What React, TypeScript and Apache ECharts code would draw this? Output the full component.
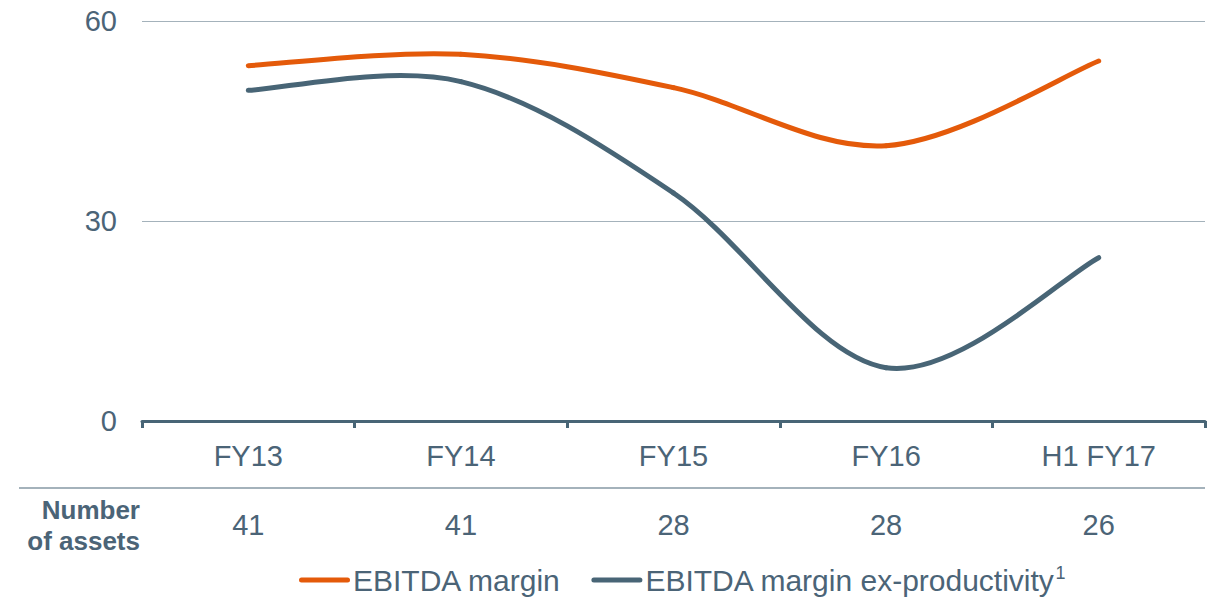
import React, { useEffect, useRef } from "react";
import * as echarts from "echarts";

const categories = ["FY13", "FY14", "FY15", "FY16", "H1 FY17"];
const ebitdaMargin = [53.3, 55, 50, 41.3, 54];
const ebitdaExProductivity = [49.6, 50.9, 34.2, 8, 24.5];
const numberOfAssets = ["41", "41", "28", "28", "26"];
const yTicks = { min: 0, max: 60, interval: 30 };

const TEXT = "#4b6477";
const ORANGE = "#e45a0a";
const SLATE = "#486576";
const GRID = "#a4b2bb";
const FONT = "'Liberation Sans', Arial, sans-serif";

function curveSeries(name: string, values: number[], color: string) {
  const n = values.length;
  const clampIdx = (k: number) => Math.max(0, Math.min(n - 1, k));
  return {
    type: "custom",
    name,
    xAxisIndex: 0,
    yAxisIndex: 0,
    data: values.map((v, i) => [i, v]),
    encode: { x: 0, y: 1 },
    itemStyle: { color },
    z: 3,
    renderItem: (params: any, api: any) => {
      const i = params.dataIndex;
      if (i >= n - 1) return null;
      const pt = (k: number) => {
        const c = clampIdx(k);
        return api.coord([c, values[c]]);
      };
      const p0 = pt(i - 1);
      const p1 = pt(i);
      const p2 = pt(i + 1);
      const p3 = pt(i + 2);
      return {
        type: "bezierCurve",
        shape: {
          x1: p1[0],
          y1: p1[1],
          cpx1: p1[0] + (p2[0] - p0[0]) / 6,
          cpy1: p1[1] + (p2[1] - p0[1]) / 6,
          cpx2: p2[0] - (p3[0] - p1[0]) / 6,
          cpy2: p2[1] - (p3[1] - p1[1]) / 6,
          x2: p2[0],
          y2: p2[1],
        },
        style: { stroke: color, lineWidth: 5, fill: null, lineCap: "round" },
      };
    },
  };
}

export default function App() {
  const ref = useRef<HTMLDivElement>(null);
  useEffect(() => {
    if (!ref.current) return;
    const chart = echarts.init(ref.current, undefined, { renderer: "svg" });
    const iconPath = "path://M2.5,0 L48.5,0 A2.5,2.5 0 0 1 48.5,5 L2.5,5 A2.5,2.5 0 0 1 2.5,0 Z";
    chart.setOption({
      animation: false,
      textStyle: { fontFamily: FONT },
      grid: { left: 142, right: 10, top: 21, bottom: 178, containLabel: false },
      legend: {
        left: 294,
        top: 559,
        itemWidth: 51,
        itemHeight: 5,
        itemGap: 30,
        icon: iconPath,
        data: [
          { name: "EBITDA margin", icon: iconPath },
          { name: "EBITDA margin ex-productivity", icon: iconPath },
        ],
        formatter: (name: string) =>
          name === "EBITDA margin ex-productivity"
            ? "{a|" + name + "}{sup|1}"
            : "{a|" + name + "}",
        textStyle: {
          color: TEXT,
          fontSize: 30,
          fontFamily: FONT,
          padding: [0, 0, 0, -2],
          rich: {
            a: { fontSize: 30, color: TEXT, fontFamily: FONT, lineHeight: 32 },
            sup: { fontSize: 18, color: TEXT, fontFamily: FONT, verticalAlign: "top", lineHeight: 20, padding: [0, 0, 14, 0] },
          },
        },
      },
      xAxis: [
        {
          type: "category",
          data: categories,
          boundaryGap: true,
          axisLine: { lineStyle: { color: SLATE, width: 3 } },
          axisTick: { show: true, length: 7, lineStyle: { color: SLATE, width: 3 } },
          axisLabel: { color: TEXT, fontSize: 29, fontFamily: FONT, margin: 20 },
        },
        {
          type: "category",
          data: numberOfAssets,
          position: "bottom",
          offset: 69,
          boundaryGap: true,
          axisLine: { show: false },
          axisTick: { show: false },
          axisLabel: { color: TEXT, fontSize: 29, fontFamily: FONT, margin: 20 },
          splitLine: { show: false },
        },
      ],
      yAxis: {
        type: "value",
        min: yTicks.min,
        max: yTicks.max,
        interval: yTicks.interval,
        axisLine: { show: false },
        axisTick: { show: false },
        axisLabel: { color: TEXT, fontSize: 29, fontFamily: FONT, margin: 25 },
        splitLine: { lineStyle: { color: GRID, width: 1 } },
      },
      series: [
        curveSeries("EBITDA margin", ebitdaMargin, ORANGE),
        curveSeries("EBITDA margin ex-productivity", ebitdaExProductivity, SLATE),
      ],
      graphic: [
        {
          type: "line",
          shape: { x1: 19, y1: 488, x2: 1205, y2: 488 },
          style: { stroke: GRID, lineWidth: 2 },
        },
        {
          type: "text",
          x: 140,
          y: 525,
          style: {
            text: "Number\nof assets",
            fill: TEXT,
            font: "bold 26px " + FONT,
            align: "right",
            verticalAlign: "middle",
            lineHeight: 31,
          },
        },
      ],
    });
    return () => chart.dispose();
  }, []);
  return (
    <div
      ref={ref}
      style={{ position: "absolute", left: 0, top: 0, width: 1215, height: 599 }}
    />
  );
}
